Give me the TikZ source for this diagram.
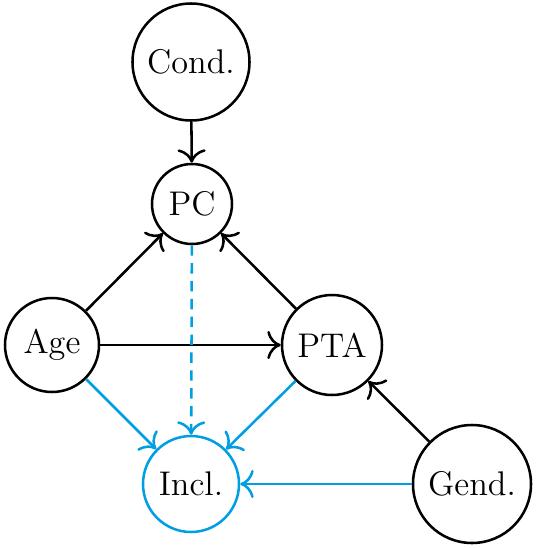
\documentclass[tikz,border=0pt]{standalone}
\usetikzlibrary{arrows.meta}
\definecolor{inclblue}{RGB}{0,158,227}
\begin{document}
\begin{tikzpicture}[x=0.336pt,y=-0.336pt,
  var/.style={draw,circle,line width=0.85pt,inner sep=0pt,font=\fontsize{11.5}{13}\selectfont},
  arr/.style={-{To[scale=1.3]},line width=0.85pt},
  barr/.style={-{To[scale=1.3]},line width=0.85pt,draw=inclblue}]
\useasboundingbox (0,0) rectangle (536,548);
\node[var,minimum size=117*0.336pt] (cond) at (191,62) {Cond.};
\node[var,minimum size=80*0.336pt] (pc) at (192,204) {PC};
\node[var,minimum size=94*0.336pt] (age) at (52,345) {Age};
\node[var,minimum size=100*0.336pt] (pta) at (332,345) {PTA};
\node[var,draw=inclblue,minimum size=96*0.336pt] (incl) at (191,484) {Incl.};
\node[var,minimum size=118*0.336pt] (gend) at (472,484) {Gend.};
\draw[arr] (cond) -- (pc);
\draw[arr] (age) -- (pc);
\draw[arr] (pta) -- (pc);
\draw[arr] (age) -- (pta);
\draw[arr] (gend) -- (pta);
\draw[barr] (age) -- (incl);
\draw[barr,dash pattern=on 3.5pt off 2.5pt] (pc) -- (incl);
\draw[barr] (pta) -- (incl);
\draw[barr] (gend) -- (incl);
\end{tikzpicture}
\end{document}
